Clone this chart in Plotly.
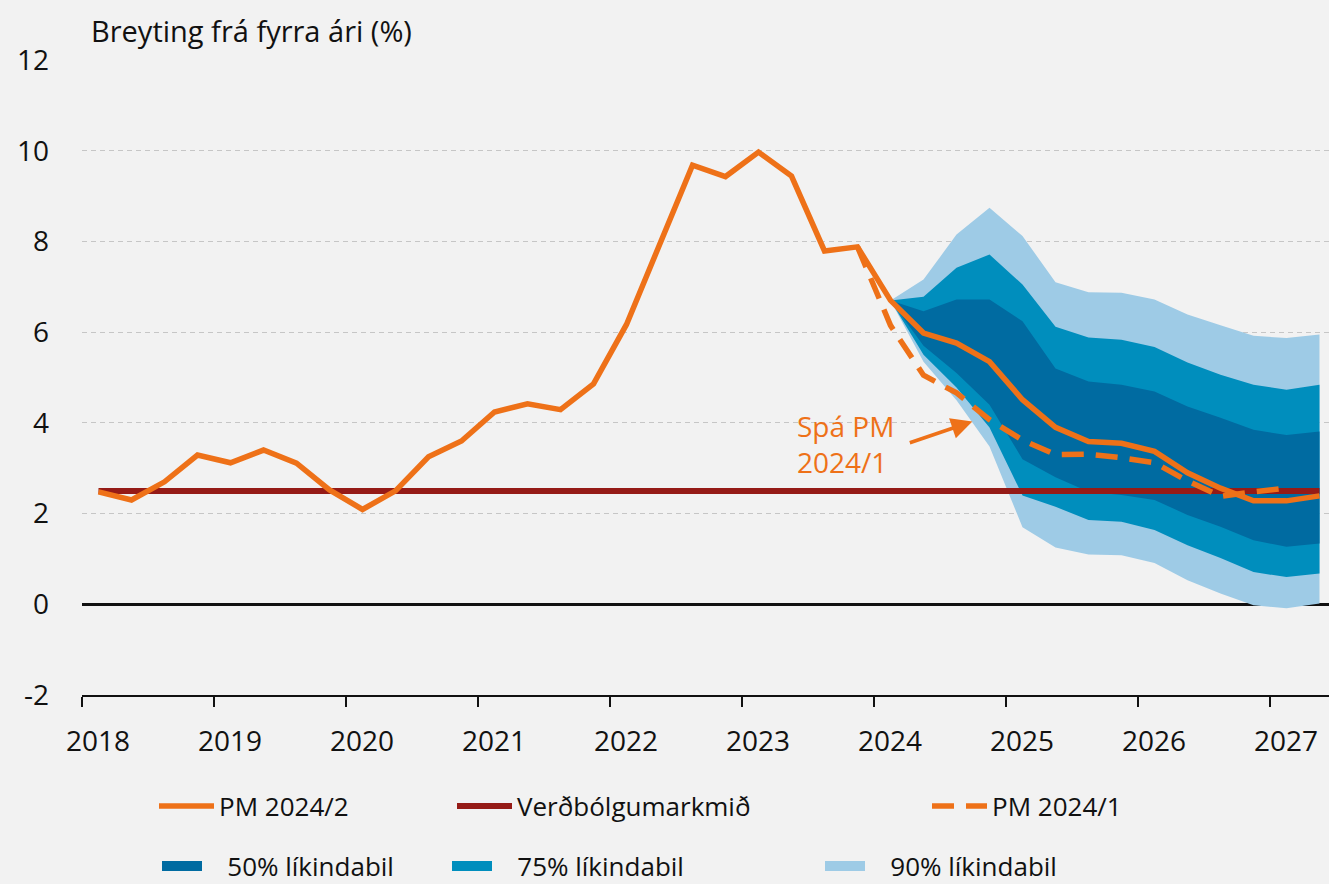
import plotly.graph_objects as go

# ---------------- data ----------------
years = list(range(2018, 2028))
year_labels = [str(y) for y in years]

quarter_labels = [f"{y}Q{q}" for y in range(2018, 2028) for q in range(1, 5)][:38]  # 2018Q1..2027Q2

pm_2024_2 = [2.48, 2.30, 2.70, 3.29,
             3.12, 3.40, 3.11, 2.52,
             2.09, 2.50, 3.25, 3.60,
             4.24, 4.42, 4.29, 4.86,
             6.17, 7.93, 9.68, 9.43,
             9.97, 9.44, 7.79, 7.88,
             6.70, 5.98, 5.76, 5.35,
             4.51, 3.90, 3.59, 3.55,
             3.37, 2.90, 2.56, 2.28,
             2.28, 2.39]

pm_2024_1_quarters = quarter_labels[23:37]          # 2023Q4..2027Q1
pm_2024_1 = [7.88, 6.15, 5.05, 4.66, 4.07, 3.62, 3.30, 3.31, 3.23, 3.12, 2.72, 2.38, 2.48, 2.56]

target = [2.5] * len(quarter_labels)

fan_quarters = quarter_labels[24:38]                 # 2024Q1..2027Q2
fan90_upper = [6.70, 7.16, 8.15, 8.74, 8.12, 7.10, 6.88, 6.87, 6.72, 6.39, 6.15, 5.92, 5.87, 5.95]
fan75_upper = [6.70, 6.78, 7.42, 7.71, 7.05, 6.12, 5.88, 5.83, 5.67, 5.33, 5.06, 4.84, 4.73, 4.84]
fan50_upper = [6.70, 6.46, 6.72, 6.72, 6.24, 5.20, 4.91, 4.84, 4.69, 4.36, 4.11, 3.85, 3.73, 3.81]
fan50_lower = [6.70, 5.70, 5.10, 4.40, 3.20, 2.80, 2.48, 2.41, 2.30, 1.97, 1.71, 1.41, 1.27, 1.34]
fan75_lower = [6.70, 5.50, 4.78, 3.90, 2.40, 2.15, 1.86, 1.82, 1.64, 1.30, 1.02, 0.71, 0.60, 0.68]
fan90_lower = [6.70, 5.35, 4.50, 3.48, 1.70, 1.25, 1.10, 1.08, 0.91, 0.53, 0.24, -0.02, -0.09, 0.02]

y_ticks = [-2, 0, 2, 4, 6, 8, 10, 12]
y_tick_labels = ["-2", "0", "2", "4", "6", "8", "10", "12"]


def qpos(label):
    """quarter label -> position at middle of the quarter on a numeric year axis"""
    y, q = label.split("Q")
    return int(y) + (int(q) - 0.5) / 4


x_all = [qpos(q) for q in quarter_labels]
x_pm1 = [qpos(q) for q in pm_2024_1_quarters]
x_fan = [qpos(q) for q in fan_quarters]

# ---------------- style ----------------
FONT = "Open Sans"
ORANGE = "#ee7118"
DARKRED = "#951b17"
C50 = "#006ba1"
C75 = "#008ebd"
C90 = "#9ecbe6"
BG = "#f2f2f2"
NB = "\u00a0"

W, H = 1329, 884
ML, MR, MT, MB = 82, 0, 60, 189
PW, PH = W - ML - MR, H - MT - MB


def px_x(p):
    return (p - ML) / PW


def cy(p):
    return (H - p) / H


def px_y(p):
    return (H - MB - p) / PH


fig = go.Figure()


def band(upper, lower, color, name, legend):
    fig.add_trace(go.Scatter(
        x=x_fan + x_fan[::-1], y=upper + lower[::-1],
        fill="toself", fillcolor=color, mode="lines",
        line=dict(width=0, color=color), showlegend=False, hoverinfo="skip"))
    # legend key (box) for the band
    fig.add_trace(go.Scatter(x=[None], y=[None], mode="lines", name=NB * 3 + name,
                             line=dict(width=20, color=color), legend=legend))


band(fan90_upper, fan90_lower, C90, "90% líkindabil", "legend6")
band(fan75_upper, fan75_lower, C75, "75% líkindabil", "legend5")
band(fan50_upper, fan50_lower, C50, "50% líkindabil", "legend4")

fig.add_trace(go.Scatter(x=x_all, y=target, mode="lines", name="Verðbólgumarkmið",
                         line=dict(color=DARKRED, width=6), legend="legend2"))
fig.add_trace(go.Scatter(x=x_pm1, y=pm_2024_1, mode="lines", name="PM 2024/1",
                         line=dict(color=ORANGE, width=5.5, dash="22px,12px"), legend="legend3"))
fig.add_trace(go.Scatter(x=x_all, y=pm_2024_2, mode="lines", name="PM 2024/2",
                         line=dict(color=ORANGE, width=5.5), legend="legend"))

# ---------------- annotations ----------------
fig.add_annotation(text="Breyting frá fyrra ári (%)", xref="paper", yref="paper",
                   x=px_x(89), y=px_y(31), xanchor="left", yanchor="middle",
                   showarrow=False, font=dict(family=FONT, size=29, color="#111111"))

label_x, label_y = 2023.404, 3.54
arrow_head = (2024.745, 4.03)
arrow_tail = (2024.26, 3.55)
fig.add_annotation(text="Spá PM<br>2024/1", x=label_x, y=label_y, xref="x", yref="y",
                   xanchor="left", yanchor="middle", align="left", showarrow=False,
                   font=dict(family=FONT, size=28, color=ORANGE))
fig.add_annotation(x=arrow_head[0], y=arrow_head[1], ax=arrow_tail[0], ay=arrow_tail[1],
                   xref="x", yref="y", axref="x", ayref="y", text="", showarrow=True,
                   arrowhead=2, arrowsize=1.2, arrowwidth=3.5, arrowcolor=ORANGE)

# ---------------- legends ----------------
leg_common = dict(orientation="h", xanchor="left", yanchor="middle", yref="container",
                  bgcolor="rgba(0,0,0,0)", font=dict(family=FONT, size=26, color="#111111"),
                  borderwidth=0)
row1, row2 = cy(806), cy(866)
fig.update_layout(
    legend=dict(x=px_x(154), y=row1, itemwidth=55, **leg_common),
    legend2=dict(x=px_x(452), y=row1, itemwidth=55, **leg_common),
    legend3=dict(x=px_x(927), y=row1, itemwidth=55, **leg_common),
    legend4=dict(x=px_x(157), y=row2, itemwidth=40, **leg_common),
    legend5=dict(x=px_x(447), y=row2, itemwidth=40, **leg_common),
    legend6=dict(x=px_x(820), y=row2, itemwidth=40, **leg_common),
)

fig.update_layout(
    width=W, height=H,
    margin=dict(l=ML, r=MR, t=MT, b=MB, autoexpand=False),
    paper_bgcolor=BG, plot_bgcolor=BG,
    showlegend=True,
    font=dict(family=FONT, size=28, color="#111111"),
    xaxis=dict(range=[2018, 2018 + PW / 132], tickvals=years, ticktext=year_labels,
               ticks="outside", ticklen=10, tickwidth=2, tickcolor="#111111",
               ticklabelshift=16, ticklabelstandoff=10,
               showline=True, linecolor="#111111", linewidth=2,
               showgrid=False, zeroline=False,
               tickfont=dict(family=FONT, size=28, color="#111111")),
    yaxis=dict(range=[-2, 12], tickvals=y_ticks, ticktext=y_tick_labels, ticks="",
               showgrid=True, gridcolor="#c6c6c6", gridwidth=1, griddash="5px,4px",
               zeroline=True, zerolinecolor="#111111", zerolinewidth=2.5,
               showline=False, ticklabelstandoff=32, layer="above traces",
               tickfont=dict(family=FONT, size=28, color="#111111")),
)

fig.write_html(
    "out.html",
    config={"displayModeBar": False},
    post_script="document.body.style.margin='0';document.body.style.overflow='hidden';"
                "document.body.style.background='#f2f2f2';",
)
